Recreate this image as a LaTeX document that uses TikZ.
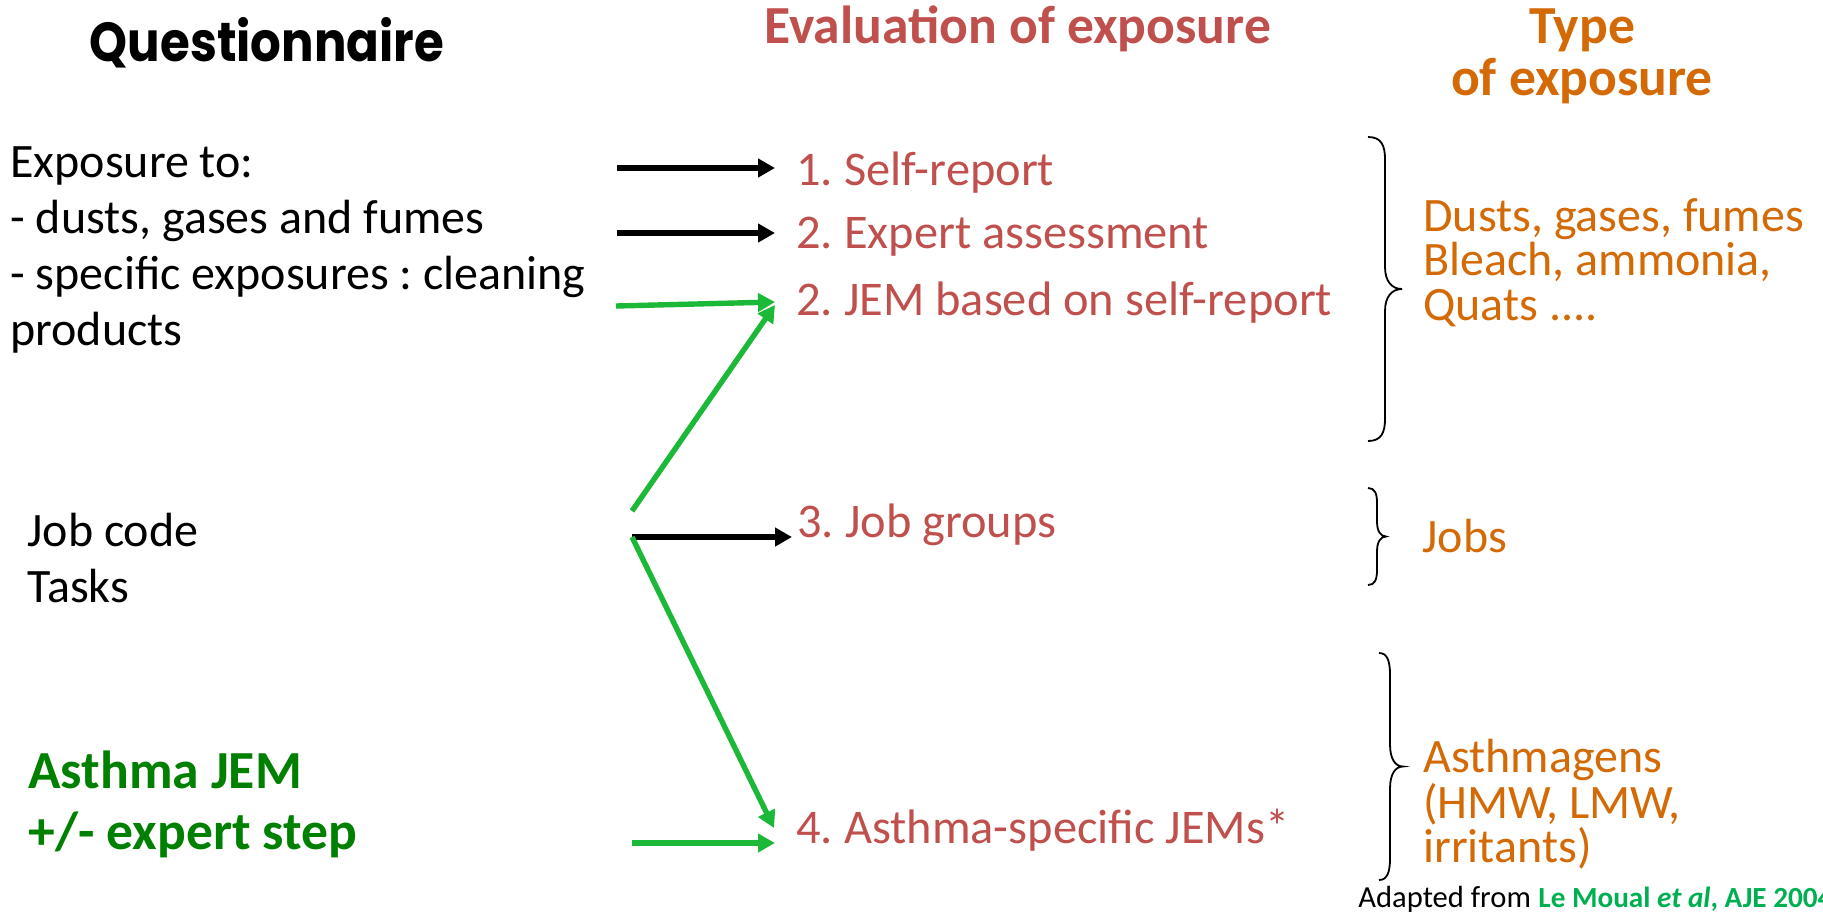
\documentclass[tikz,border=0pt]{standalone}
\usepackage{graphicx}
\usepackage{fontspec}
\setmainfont{Carlito}
\newfontfamily\questfont{Poppins}
\usetikzlibrary{arrows.meta}
\frenchspacing

\definecolor{evalred}{RGB}{192,80,77}
\definecolor{typeorange}{RGB}{212,106,6}
\definecolor{linkgreen}{RGB}{28,184,56}
\definecolor{jemgreen}{RGB}{0,128,0}
\definecolor{citegreen}{RGB}{0,176,80}

\tikzset{
  txt/.style={anchor=base west, inner sep=0pt, font=\fontsize{24}{28}\selectfont},
  midtxt/.style={anchor=base west, inner sep=0pt, font=\fontsize{24.2}{28}\selectfont, text=evalred},
  head/.style={inner sep=0pt, font=\fontsize{26.8}{30}\selectfont\bfseries},
  typetxt/.style={txt, text=typeorange},
  jemtxt/.style={anchor=base west, inner sep=0pt, font=\fontsize{26.8}{30}\selectfont\bfseries, text=jemgreen},
  foot/.style={anchor=base west, inner sep=0pt, font=\fontsize{15.3}{17}\selectfont},
  flow/.style={line width=2.7pt, -{Triangle[length=8.5pt,width=9pt]}},
  blackflow/.style={flow, draw=black, fill=black},
  greenflow/.style={flow, draw=linkgreen, fill=linkgreen},
  curly/.style={line width=0.9pt, black}
}

% right-facing curly brace: left end x, stem x, tip x, top y, bottom y, bend size
\newcommand{\drawcurly}[6]{%
  \pgfmathsetmacro\cym{(#4+#5)/2}
  \draw[curly] (#1,#4) .. controls ({#1+0.75*(#2-#1)},#4) and (#2,{#4+0.35*#6}) .. (#2,{#4+#6})
    -- (#2,{\cym-#6}) .. controls (#2,{\cym-0.35*#6}) and ({#2+0.4*(#3-#2)},\cym) .. (#3,\cym)
    .. controls ({#2+0.4*(#3-#2)},\cym) and (#2,{\cym+0.35*#6}) .. (#2,{\cym+#6})
    -- (#2,{#5-#6}) .. controls (#2,{#5-0.35*#6}) and ({#1+0.75*(#2-#1)},#5) .. (#1,#5);
}

\begin{document}
\begin{tikzpicture}[x=0.5pt, y=-0.5pt]
\useasboundingbox (0,0) rectangle (1823,917);

% column headings
\node[anchor=base, inner sep=0pt] (quest) at (267,61)
  {\resizebox{177pt}{22pt}{\questfont\bfseries Questionnaire}};
\node[head, anchor=base west, text=evalred] (evalhead) at (764,43) {Evaluation of exposure};
\node[head, anchor=base, text=typeorange] (typehead1) at (1582,43) {Type};
\node[head, anchor=base, text=typeorange] (typehead2) at (1582,95) {of exposure};

% questionnaire items
\node[txt] (q1) at (10,177) {Exposure to:};
\node[txt] (q2) at (10,233) {- dusts, gases and fumes};
\node[txt] (q3) at (10,289) {- specific exposures : cleaning};
\node[txt] (q4) at (10,345) {products};
\node[txt] (job1) at (27,546) {Job code};
\node[txt] (job2) at (27,602) {Tasks};
\node[jemtxt] (jem1) at (28,788) {Asthma JEM};
\node[jemtxt] (jem2) at (28,849) {+/- expert step};

% evaluation methods
\node[midtxt] (e1) at (796,185) {1. Self-report};
\node[midtxt] (e2) at (796,248) {2. Expert assessment};
\node[midtxt] (e3) at (796,315) {2. JEM based on self-report};
\node[midtxt] (e4) at (797,537) {3. Job groups};
\node[midtxt] (e5) at (796,843) {4. Asthma-specific JEMs*};

% types of exposure
\node[typetxt] (r1) at (1423,231) {Dusts, gases, fumes};
\node[typetxt] (r2) at (1423,275) {Bleach, ammonia,};
\node[typetxt] (r3) at (1423,320) {Quats ....};
\node[typetxt] (r4) at (1422,552) {Jobs};
\node[typetxt] (r5) at (1423,772) {Asthmagens};
\node[typetxt] (r6) at (1423,818) {(HMW, LMW,};
\node[typetxt] (r7) at (1423,862) {irritants)};

% source
\node[foot] (adapted) at (1358,907) {Adapted from};
\node[foot, font=\fontsize{14.6}{17}\selectfont\bfseries, text=citegreen] (cite) at (1538,907) {Le Moual \textit{et al}, AJE 2004};

% arrow tails
\coordinate (src1) at (617,168);
\coordinate (src2) at (617,233);
\coordinate (src3) at (616,306);
\coordinate (jobup) at (632,511);
\coordinate (jobmid) at (632,537);
\coordinate (src7) at (632,843);

\draw[blackflow] (src1) -- ([shift={(-21,-17)}]e1.base west);
\draw[blackflow] (src2) -- ([shift={(-21,-15)}]e2.base west);
\draw[greenflow] (src3) -- ([shift={(-21,-13)}]e3.base west);
\draw[greenflow] (jobup) -- ([shift={(-21,-10)}]e3.base west);
\draw[blackflow] (jobmid) -- ([shift={(-5,0)}]e4.base west);
\draw[greenflow] (jobmid) -- ([shift={(-22,-15)}]e5.base west);
\draw[greenflow] (src7) -- ([shift={(-21,0)}]e5.base west);

% braces
\drawcurly{1368}{1385}{1402}{137}{441}{22}
\drawcurly{1368}{1377}{1386}{488}{585}{15}
\drawcurly{1379}{1390}{1403}{653}{880}{22}
\end{tikzpicture}
\end{document}
